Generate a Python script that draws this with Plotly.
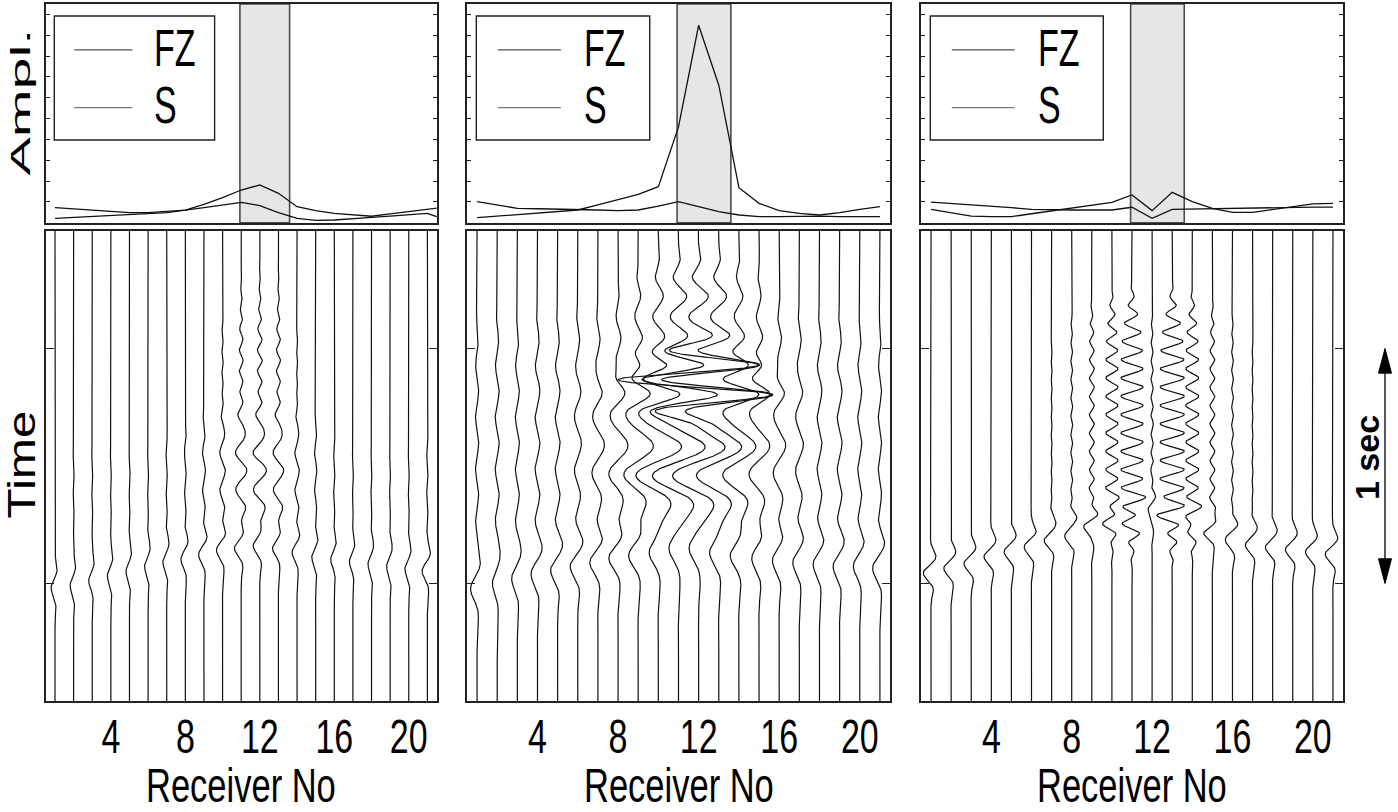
import json
import numpy as np
import plotly.graph_objects as go

# ---------------------------------------------------------------- data
receivers = list(range(1, 22))
receivers_left = list(range(1, 23))          # left amplitude panel carries one extra station
x_ticks = [4, 8, 12, 16, 20]
fz_window = (10.93, 13.6)                    # fault-zone receivers (shaded)
scale_bar = (0.5, 1.5)                       # "1 sec" bar, seconds

# peak amplitudes (top row)
amp_fz_1 = [0.21, 0.26, 0.31, 0.35, 0.40, 0.43, 0.48, 0.60, 0.88, 1.20, 1.57, 1.81, 1.41, 0.77,
            0.58, 0.45, 0.37, 0.31, 0.42, 0.53, 0.64, 0.75]
amp_s_1 = [0.72, 0.66, 0.59, 0.53, 0.48, 0.48, 0.53, 0.60, 0.72, 0.85, 0.98, 0.82, 0.48, 0.21,
           0.11, 0.13, 0.18, 0.26, 0.32, 0.40, 0.45, 0.13]
amp_fz_2 = [0.24, 0.31, 0.37, 0.45, 0.53, 0.61, 0.86, 1.12, 1.36, 1.73, 4.60, 9.48, 6.60, 1.68,
            0.93, 0.58, 0.45, 0.37, 0.48, 0.64, 0.77]
amp_s_2 = [1.01, 0.85, 0.69, 0.67, 0.66, 0.64, 0.61, 0.58, 0.61, 0.80, 1.01, 0.77, 0.53, 0.37,
           0.29, 0.29, 0.32, 0.32, 0.29, 0.29, 0.29]
amp_fz_3 = [0.64, 0.47, 0.32, 0.29, 0.29, 0.43, 0.56, 0.71, 0.83, 0.98, 1.33, 0.58, 1.46, 1.01,
            0.69, 0.50, 0.50, 0.64, 0.77, 0.90, 0.93]
amp_s_3 = [0.99, 0.93, 0.85, 0.78, 0.72, 0.64, 0.61, 0.61, 0.61, 0.61, 0.74, 0.21, 0.64, 0.66,
           0.67, 0.69, 0.71, 0.72, 0.74, 0.75, 0.75]

# seismogram wave groups: per-receiver amplitude (receiver spacings) and centre time (s)
p1_body_time = [1.50, 1.49, 1.47, 1.45, 1.43, 1.41, 1.39, 1.38, 1.36, 1.34, 1.33, 1.32, 1.33, 1.35,
                1.37, 1.38, 1.39, 1.40, 1.41, 1.42, 1.43]
p1_body_amp = [0.22, 0.20, 0.20, 0.20, 0.20, 0.20, 0.22, 0.25, 0.30, 0.35, 0.40, 0.40, 0.35, 0.28,
               0.22, 0.20, 0.20, 0.20, 0.20, 0.22, 0.30]
p1_early_amp = [0.0, 0.0, 0.0, 0.0, 0.0, 0.0, 0.0, 0.01, 0.02, 0.04, 0.10, 0.13, 0.11, 0.03,
                0.01, 0.0, 0.0, 0.0, 0.0, 0.0, 0.0]
p1_late_amp = [0.02, 0.03, 0.03, 0.03, 0.03, 0.03, 0.04, 0.05, 0.08, 0.15, 0.30, 0.35, 0.28, 0.12,
               0.06, 0.04, 0.03, 0.03, 0.03, 0.03, 0.04]

p2_body_time = [1.50, 1.48, 1.46, 1.44, 1.42, 1.40, 1.38, 1.36, 1.35, 1.34, 1.33, 1.33, 1.34, 1.35,
                1.36, 1.37, 1.38, 1.39, 1.40, 1.40, 1.41]
p2_body_amp = [0.35, 0.25, 0.28, 0.30, 0.32, 0.35, 0.40, 0.50, 0.55, 0.55, 0.55, 0.55, 0.55, 0.50,
               0.40, 0.35, 0.32, 0.30, 0.30, 0.30, 0.35]
p2_bg_amp = [0.08, 0.10, 0.10, 0.12, 0.12, 0.14, 0.16, 0.20, 0.25, 0.30, 0.30, 0.30, 0.30, 0.25,
             0.20, 0.16, 0.14, 0.12, 0.12, 0.10, 0.08]
p2_early_amp = [0.0, 0.0, 0.0, 0.0, 0.0, 0.0, 0.0, 0.03, 0.10, 0.22, 0.38, 0.45, 0.36, 0.18,
                0.08, 0.02, 0.0, 0.0, 0.0, 0.0, 0.0]
p2_pulse_amp = [0.0, 0.0, 0.0, 0.0, 0.0, 0.02, 0.05, 0.15, 0.40, 0.90, 2.00, 4.20, 3.00, 0.90,
                0.40, 0.12, 0.03, 0.0, 0.0, 0.0, 0.0]
p2_coda_amp = [0.0, 0.0, 0.0, 0.0, 0.0, 0.05, 0.20, 0.35, 0.60, 1.00, 1.20, 1.20, 1.00, 0.70,
               0.40, 0.20, 0.08, 0.0, 0.0, 0.0, 0.0]

p3_body_time = [1.44, 1.42, 1.40, 1.37, 1.35, 1.33, 1.30, 1.28, 1.25, 1.22, 1.20, 1.18, 1.20, 1.23,
                1.27, 1.30, 1.32, 1.33, 1.34, 1.35, 1.36]
p3_body_amp = [0.40, 0.38, 0.38, 0.38, 0.38, 0.38, 0.38, 0.38, 0.38, 0.30, 0.30, 0.20, 0.30, 0.30,
               0.38, 0.38, 0.38, 0.38, 0.38, 0.38, 0.40]
p3_trap_amp = [0.01, 0.01, 0.01, 0.01, 0.01, 0.015, 0.025, 0.05, 0.12, 0.30, 0.55, 0.06, -0.60, -0.32,
               -0.12, -0.05, -0.025, -0.015, -0.01, -0.01, -0.01]

time = np.linspace(0.0, 2.0, 1201)

# wave groups: amplitude, centre, period, envelope width, phase, envelope power
BODY_PHASE = np.pi - 0.7
panels_waves = [
    [
        dict(amp=p1_body_amp, centre=p1_body_time, period=0.20, width=0.09, phase=BODY_PHASE),
        dict(amp=p1_early_amp, centre=0.55, period=0.09, width=0.30, phase=0.0),
        dict(amp=p1_late_amp, centre=1.02, period=0.16, width=0.25, phase=0.0, power=4),
    ],
    [
        dict(amp=p2_body_amp, centre=p2_body_time, period=0.28, width=0.12, phase=BODY_PHASE),
        dict(amp=p2_bg_amp, centre=0.90, period=0.22, width=0.55, phase=0.0, power=4),
        dict(amp=p2_early_amp, centre=0.28, period=0.18, width=0.15, phase=0.0),
        dict(amp=p2_pulse_amp, centre=0.634, period=0.136, width=0.13, phase=np.pi),
        dict(amp=p2_coda_amp, centre=1.00, period=0.27, width=0.25, phase=1.86),
    ],
    [
        dict(amp=p3_body_amp, centre=p3_body_time, period=0.17, width=0.085, phase=BODY_PHASE),
        dict(amp=p3_trap_amp, centre=0.82, period=0.078, width=0.50, phase=0.0, power=6),
    ],
]
amplitudes = [
    (receivers_left, amp_fz_1, amp_s_1),
    (receivers, amp_fz_2, amp_s_2),
    (receivers, amp_fz_3, amp_s_3),
]


def wavelet(t, amp, centre, period, width, phase=0.0, power=2.0):
    tau = t - centre
    return amp * np.exp(-np.abs(tau / width) ** power) * np.cos(2 * np.pi * tau / period + phase)


def section(groups):
    xs, ys = [], []
    for i, r in enumerate(receivers):
        disp = np.zeros_like(time)
        for g in groups:
            centre = g["centre"][i] if np.ndim(g["centre"]) else g["centre"]
            disp += wavelet(time, g["amp"][i], centre, g["period"], g["width"],
                            g.get("phase", 0.0), g.get("power", 2.0))
        xs.extend((r + disp).tolist())
        ys.extend(time.tolist())
        xs.append(None)
        ys.append(None)
    return xs, ys


# ---------------------------------------------------------------- layout geometry
W, H = 1398, 812
col_px = [(45.7, 436.7), (467.0, 890.0), (921.0, 1343.0)]
top_px = (4.0, 222.7)
bot_px = (231.0, 701.0)


def xdom(c):
    return [col_px[c][0] / W, col_px[c][1] / W]


def ydom(p):
    return [1 - p[1] / H, 1 - p[0] / H]


FONT = "Liberation Sans, Arial, Helvetica, sans-serif"
FRAME = "#222222"
INK = "#111111"

# tall, condensed lettering: (horizontal, vertical) stretch per label text
text_stretch = {
    "Receiver No": [1.0, 1.42],
    "FZ": [1.0, 1.5],
    "S": [1.0, 1.5],
    "Ampl.": [2.05, 1.0],
    "Time": [1.3, 1.0],
}
for v in x_ticks:
    text_stretch[str(v)] = [1.0, 1.42]

fig = go.Figure()
shapes, annotations = [], []

for c in range(3):
    tx, ty = ("x" if c == 0 else f"x{c + 1}"), ("y" if c == 0 else f"y{c + 1}")
    bx, by = f"x{c + 4}", f"y{c + 4}"

    recv, fz, s = amplitudes[c]
    fig.add_trace(go.Scatter(x=recv, y=fz, mode="lines", name="FZ", showlegend=False,
                             line=dict(color=INK, width=1.3), xaxis=tx, yaxis=ty))
    fig.add_trace(go.Scatter(x=recv, y=s, mode="lines", name="S", showlegend=False,
                             line=dict(color=INK, width=1.3), xaxis=tx, yaxis=ty))

    sx, sy = section(panels_waves[c])
    fig.add_trace(go.Scatter(x=sx, y=sy, mode="lines", showlegend=False, connectgaps=False,
                             line=dict(color=INK, width=1.2), xaxis=bx, yaxis=by))

    axis_common = dict(showline=True, linecolor=FRAME, linewidth=1.6, showgrid=False,
                       zeroline=False, range=[0.5, 21.5])
    fig.layout[("xaxis" if c == 0 else f"xaxis{c + 1}")] = dict(
        axis_common, domain=xdom(c), anchor=ty, mirror=True, ticks="", showticklabels=False)
    fig.layout[("yaxis" if c == 0 else f"yaxis{c + 1}")] = dict(
        showline=True, linecolor=FRAME, linewidth=1.6, showgrid=False, zeroline=False,
        domain=ydom(top_px), anchor=tx, range=[0, 10.5], tickvals=list(range(1, 11)),
        ticks="inside", ticklen=4, tickcolor=FRAME, mirror="ticks", showticklabels=False)
    fig.layout[f"xaxis{c + 4}"] = dict(
        axis_common, domain=xdom(c), anchor=by, mirror=True, ticks="",
        tickvals=x_ticks, ticktext=[str(v) for v in x_ticks],
        tickfont=dict(family=FONT, size=34, color="black"), ticklabelstandoff=4)
    fig.layout[f"yaxis{c + 4}"] = dict(
        showline=True, linecolor=FRAME, linewidth=1.6, showgrid=False, zeroline=False,
        domain=ydom(bot_px), anchor=bx, range=[2.0, 0.0], tickvals=list(scale_bar),
        ticks="inside", ticklen=8, tickcolor=FRAME, mirror="ticks", showticklabels=False)

    # fault-zone band
    shapes.append(dict(type="rect", xref=tx, yref=f"{ty} domain", x0=fz_window[0], x1=fz_window[1],
                       y0=0, y1=1, fillcolor="#e6e6e6", line=dict(color="#4a4a4a", width=1.6),
                       layer="below"))
    # legend box
    shapes.append(dict(type="rect", xref=f"{tx} domain", yref=f"{ty} domain", x0=0.022, x1=0.432,
                       y0=0.378, y1=0.945, fillcolor="white", line=dict(color=FRAME, width=1.4)))
    for label, yy, col in (("FZ", 0.79, "#555555"), ("S", 0.526, "#777777")):
        shapes.append(dict(type="line", xref=f"{tx} domain", yref=f"{ty} domain", x0=0.073, x1=0.222,
                           y0=yy, y1=yy, line=dict(color=col, width=1.2)))
        annotations.append(dict(text=label, xref=f"{tx} domain", yref=f"{ty} domain", x=0.272,
                                y=yy + 0.01, xanchor="left", yanchor="middle", showarrow=False,
                                font=dict(family=FONT, size=34, color="black")))
    annotations.append(dict(text="Receiver No", xref="paper", yref="paper",
                            x=sum(xdom(c)) / 2, y=1 - 785 / H, xanchor="center", yanchor="middle",
                            showarrow=False, font=dict(family=FONT, size=34.5, color="black")))

annotations.append(dict(text="Ampl.", xref="paper", yref="paper", x=20 / W, y=1 - 102 / H,
                        textangle=-90, xanchor="center", yanchor="middle", showarrow=False,
                        font=dict(family=FONT, size=28, color="black")))
annotations.append(dict(text="Time", xref="paper", yref="paper", x=22 / W, y=1 - 465 / H,
                        textangle=-90, xanchor="center", yanchor="middle", showarrow=False,
                        font=dict(family=FONT, size=38, color="black")))

# "1 sec" scale bar beside the right-hand section
bar_x = 1385 / W
head_w = 6.5 / W
head_len = 0.105
t0, t1 = scale_bar
shapes.append(dict(type="line", xref="paper", yref="y6", x0=bar_x, x1=bar_x, y0=t0 + head_len,
                   y1=t1 - head_len, line=dict(color="black", width=1.3)))
for tip, base in ((t0, t0 + head_len), (t1, t1 - head_len)):
    shapes.append(dict(type="path", xref="paper", yref="y6",
                       path=f"M {bar_x},{tip} L {bar_x - head_w},{base} L {bar_x + head_w},{base} Z",
                       fillcolor="black", line=dict(color="black", width=1)))
annotations.append(dict(text="<b>1 sec</b>", xref="paper", yref="paper", x=1367 / W, y=1 - 458 / H,
                        textangle=-90, xanchor="center", yanchor="middle", showarrow=False,
                        font=dict(family=FONT, size=34, color="black")))

fig.update_layout(width=W, height=H, margin=dict(l=0, r=0, t=0, b=0, autoexpand=False),
                  paper_bgcolor="white", plot_bgcolor="white", shapes=shapes,
                  annotations=annotations, showlegend=False)

# stretch the lettering in place, about each label's own centre
stretch_js = """
var gd = document.getElementById('{plot_id}');
var rules = %s;
gd.querySelectorAll('text').forEach(function (el) {
  var r = rules[el.textContent];
  if (!r || el.getAttribute('data-stretched')) { return; }
  var bb = el.getBBox();
  var cx = bb.x + bb.width / 2, cy = bb.y + bb.height / 2;
  var prev = el.getAttribute('transform') || '';
  el.setAttribute('transform', prev + ' translate(' + cx + ' ' + cy + ') scale(' + r[0] + ' ' + r[1] +
                  ') translate(' + (-cx) + ' ' + (-cy) + ')');
  el.setAttribute('data-stretched', '1');
});
""" % json.dumps(text_stretch)

fig.write_html("out.html", include_plotlyjs=True, full_html=True,
               config=dict(displayModeBar=False), post_script=stretch_js)
